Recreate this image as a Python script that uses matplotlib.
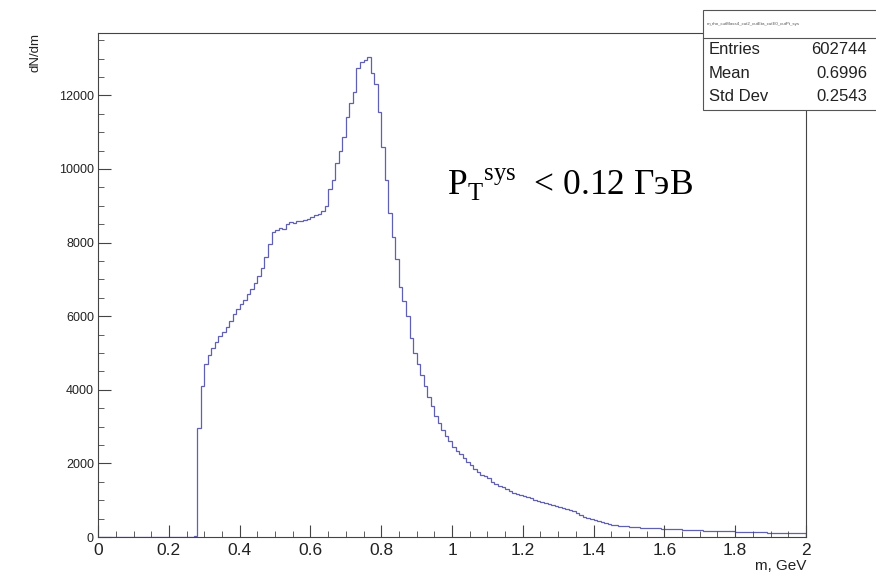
import numpy as np
import matplotlib.pyplot as plt
from matplotlib.patches import Rectangle
from matplotlib.ticker import MultipleLocator

plt.rcParams['mathtext.fontset'] = 'custom'
plt.rcParams['mathtext.rm'] = 'Liberation Serif'

# histogram: 200 bins of 0.01 from 0 to 2
m_lo, m_hi, n_bins = 0.0, 2.0, 200
counts = [
    0, 0, 0, 0, 0, 0, 0, 0, 0, 0,
    0, 0, 0, 0, 0, 0, 0, 0, 0, 0,
    0, 0, 0, 0, 0, 0, 0, 40, 2950, 4100,
    4700, 4950, 5150, 5300, 5450, 5580, 5720, 5880, 6050, 6200,
    6320, 6450, 6600, 6750, 6900, 7080, 7300, 7600, 7950, 8300,
    8350, 8400, 8380, 8500, 8560, 8520, 8600, 8580, 8620, 8650,
    8700, 8750, 8780, 8850, 9000, 9450, 9700, 10150, 10500, 10870,
    11400, 11800, 12100, 12750, 12900, 12950, 13040, 12600, 12300, 11550,
    10600, 9700, 8800, 8150, 7550, 6800, 6400, 6000, 5400, 5000,
    4700, 4400, 4100, 3800, 3550, 3300, 3100, 2900, 2750, 2600,
    2450, 2350, 2250, 2150, 2050, 1950, 1850, 1780, 1700, 1650,
    1600, 1500, 1450, 1400, 1350, 1300, 1250, 1200, 1180, 1150,
    1120, 1100, 1050, 1000, 980, 950, 930, 900, 880, 850,
    820, 800, 770, 740, 700, 650, 600, 550, 520, 500,
    460, 430, 400, 380, 360, 340, 330, 310, 300, 290,
    280, 275, 270, 260, 255, 250, 245, 240, 235, 232,
    230, 225, 220, 215, 210, 205, 200, 195, 190, 185,
    180, 178, 175, 170, 168, 165, 160, 158, 155, 152,
    150, 148, 145, 140, 138, 135, 130, 128, 125, 122,
    120, 118, 115, 112, 110, 108, 105, 104, 102, 100,
]

stats_title = 'm_rho_cutMass4_cut2_cutEta_cutE0_cutPt_sys'
stats_rows = [('Entries', '602744'), ('Mean', '0.6996'), ('Std Dev', '0.2543')]

fig = plt.figure(figsize=(8.76, 5.8), dpi=100)
ax = fig.add_axes([0.112, 0.074, 0.808, 0.869])

edges = np.linspace(m_lo, m_hi, n_bins + 1)
ax.stairs(counts, edges, color='#6060b0', linewidth=0.9)

ax.set_xlim(m_lo, m_hi)
ax.set_ylim(0, 1.05 * max(counts))

ax.xaxis.set_major_locator(MultipleLocator(0.2))
ax.xaxis.set_minor_locator(MultipleLocator(0.05))
ax.yaxis.set_major_locator(MultipleLocator(2000))
ax.yaxis.set_minor_locator(MultipleLocator(500))
ax.xaxis.set_major_formatter(plt.FuncFormatter(lambda v, p: f'{v:g}'))

ax.tick_params(axis='both', which='both', direction='in', color='#444444')
ax.tick_params(axis='x', which='major', length=9, labelsize=12.5, pad=4)
ax.tick_params(axis='x', which='minor', length=4.5)
ax.tick_params(axis='y', which='major', length=9, labelsize=9, pad=3)
ax.tick_params(axis='y', which='minor', length=4.5)
for lab in ax.get_xticklabels() + ax.get_yticklabels():
    lab.set_family('Liberation Sans')
    lab.set_color('#222222')
for s in ax.spines.values():
    s.set_color('#444444')
    s.set_linewidth(0.8)

fig.text(0.920, 0.024, 'm, GeV', ha='right', va='center', fontsize=11,
         family='Liberation Sans', color='#222222')
fig.text(0.040, 0.943, 'dN/dm', ha='center', va='top', rotation=90,
         fontsize=9.5, family='Liberation Sans', color='#222222')

# annotation
fig.text(0.510, 0.664, r'P$_{\mathrm{T}}{}^{\mathrm{sys}}$  < 0.12 ГэВ',
         ha='left', va='baseline', fontsize=25.5, family='Liberation Serif')

# stats box like ROOT
box = Rectangle((0.802, 0.810), 0.21, 0.173, transform=fig.transFigure,
                facecolor='white', edgecolor='#555555', linewidth=0.8,
                zorder=5, clip_on=False)
fig.patches.append(box)
fig.add_artist(plt.Line2D([0.802, 1.0], [0.934, 0.934], transform=fig.transFigure,
                          color='#555555', linewidth=0.8, zorder=6))
fig.text(0.807, 0.958, stats_title, fontsize=3.2, va='center', ha='left',
         family='Liberation Sans', color='#555555', zorder=7)
for (name, val), y in zip(stats_rows, [0.914, 0.874, 0.833]):
    fig.text(0.809, y, name, fontsize=12, va='center', ha='left',
             family='Liberation Sans', color='#222222', zorder=7)
    fig.text(0.990, y, val, fontsize=12, va='center', ha='right',
             family='Liberation Sans', color='#222222', zorder=7)

fig.savefig('out.png', dpi=100)
